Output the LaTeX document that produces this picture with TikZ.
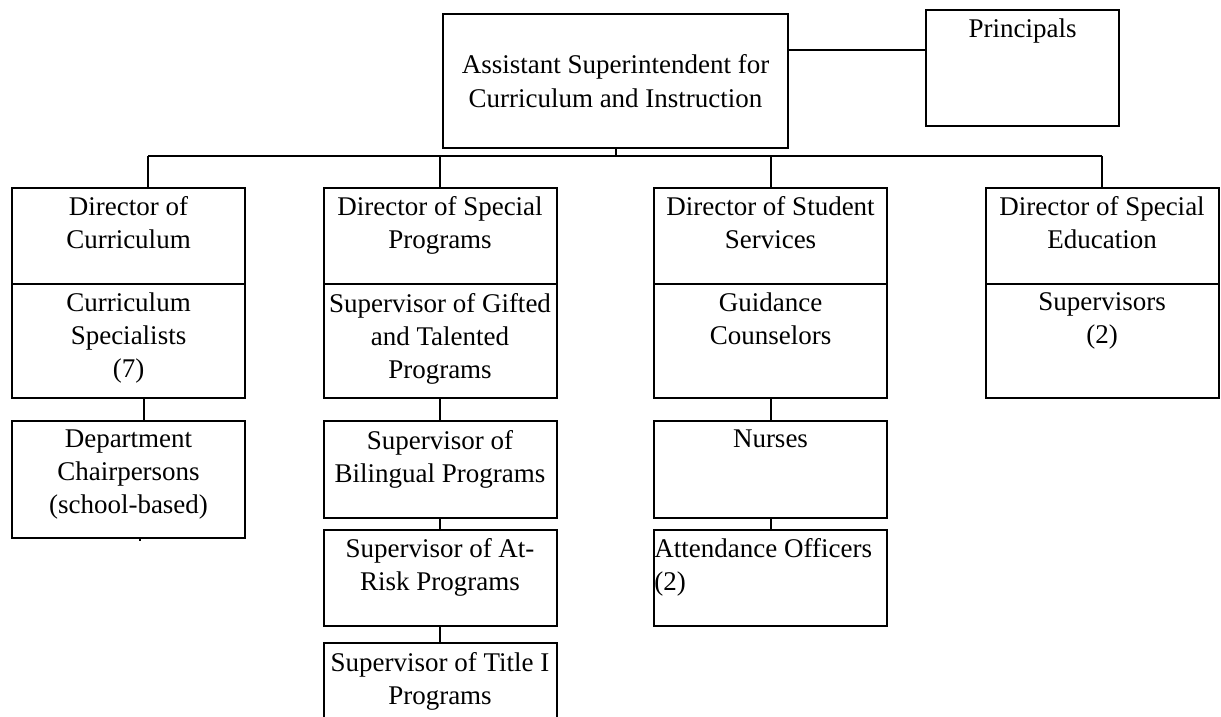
\documentclass[tikz,border=0pt]{standalone}
\usepackage{fontspec}
\setmainfont{Liberation Serif}
\usetikzlibrary{positioning}
\tikzset{
  box/.style={draw, rectangle, anchor=north west, minimum width=116.5pt, inner sep=0pt, outer sep=0pt, line width=1pt},
  tallbox/.style={box, minimum height=57pt},
  shortbox/.style={box, minimum height=48.25pt},
  lab/.style={anchor=north, align=center, inner sep=0pt, yshift=-4.3pt, font=\fontsize{13.5}{16.5}\selectfont},
  link/.style={line width=1pt},
}
\begin{document}
\begin{tikzpicture}[x=0.5pt,y=-0.5pt]
\useasboundingbox (0,0) rectangle (1221,717);
\clip (0,0) rectangle (1221,717);
% top level
\node[box, minimum width=172.5pt, minimum height=67pt, align=center, font=\fontsize{13.5}{17}\selectfont] (asst) at (443,14) {Assistant Superintendent for\\Curriculum and Instruction};
\node[box, minimum width=96.5pt, minimum height=58pt, label={[lab]north:Principals}] (princ) at (926,10) {};
% directors
\node[shortbox, label={[lab]north:Director of\\Curriculum}] (dcur) at (12,187.5) {};
\node[shortbox, label={[lab]north:Director of Special\\Programs}] (dsp) at (323.5,187.5) {};
\node[shortbox, label={[lab]north:Director of Student\\Services}] (dss) at (654,187.5) {};
\node[shortbox, label={[lab]north:Director of Special\\Education}] (dde) at (985.5,187.5) {};
% second part of each column
\node[tallbox, below=0pt of dcur, label={[lab]north:Curriculum\\Specialists\\(7)}] (cspec) {};
\node[tallbox, below=0pt of dsp, label={[lab]north:Supervisor of Gifted\\and Talented\\Programs}] (gift) {};
\node[tallbox, below=0pt of dss, label={[lab]north:Guidance\\Counselors}] (guid) {};
\node[tallbox, below=0pt of dde, label={[lab]north:Supervisors\\(2)}] (sped) {};
% lower boxes
\node[box, minimum height=58.5pt, below=11.5pt of cspec, label={[lab]north:Department\\Chairpersons\\(school-based)}] (dch) {};
\node[shortbox, below=11.5pt of gift, label={[lab]north:Supervisor of\\Bilingual Programs}] (bil) {};
\node[shortbox, below=6pt of bil, label={[lab]north:Supervisor of At-\\Risk Programs}] (risk) {};
\node[box, minimum height=50pt, below=8.5pt of risk, label={[lab]north:Supervisor of Title I\\Programs}] (title) {};
\node[shortbox, below=11.5pt of guid, label={[lab]north:Nurses}] (nurse) {};
\node[shortbox, below=6pt of nurse, label={[lab, anchor=north west, align=left]north west:Attendance Officers\\(2)}] (attend) {};
% connectors
\coordinate (bus) at (0,156);
\draw[link] ([yshift=15.5pt]asst.east) -- ([yshift=15.5pt]asst.east -| princ.west);
\draw[link] (asst.south) -- (asst.south |- bus);
\draw[link] ([xshift=9.75pt]dcur.north |- bus) -- (dde.north |- bus);
\draw[link] ([xshift=9.75pt]dcur.north |- bus) -- ([xshift=9.75pt]dcur.north);
\foreach \n in {dsp,dss,dde}
  \draw[link] (\n.north |- bus) -- (\n.north);
\draw[link] ([xshift=7.5pt]cspec.south) -- ([xshift=7.5pt]dch.north);
\draw[link] ([xshift=5.75pt]dch.south) -- ++(0,3);
\draw[link] (gift.south) -- (bil.north);
\draw[link] (bil.south) -- (risk.north);
\draw[link] (risk.south) -- (title.north);
\draw[link] (guid.south) -- (nurse.north);
\draw[link] (nurse.south) -- (attend.north);
\end{tikzpicture}
\end{document}
